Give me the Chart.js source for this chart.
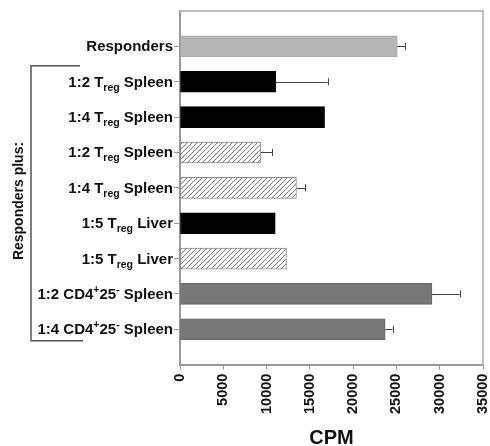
<!DOCTYPE html>
<html>
<head>
<meta charset="utf-8">
<script src="https://cdn.jsdelivr.net/npm/chart.js@4.4.0/dist/chart.umd.min.js"></script>
<style>
html,body{margin:0;padding:0;background:#fff;}
canvas{display:block;}
</style>
</head>
<body>
<canvas id="c" width="490" height="446"></canvas>
<script>
// ---- data ----
const categories = [
  'Responders',
  '1:2 T_{reg} Spleen',
  '1:4 T_{reg} Spleen',
  '1:2 T_{reg} Spleen',
  '1:4 T_{reg} Spleen',
  '1:5 T_{reg} Liver',
  '1:5 T_{reg} Liver',
  '1:2 CD4^{+}25^{-} Spleen',
  '1:4 CD4^{+}25^{-} Spleen'
];
const cpmValues = [25100, 11050, 16700, 9350, 13450, 11000, 12300, 29100, 23700];
const cpmErrors = [900, 6000, 0, 1300, 1000, 0, 0, 3200, 850];
const xTicks = [0, 5000, 10000, 15000, 20000, 25000, 30000, 35000];
const groupLabel = 'Responders plus:';
const axisTitle = 'CPM';
// fill kind per bar (style lookup)
const fillKinds = ['light', 'black', 'black', 'hatch', 'hatch', 'black', 'hatch', 'dark', 'dark'];

const FONT = '"Liberation Sans", Arial, Helvetica, sans-serif';

function makeHatch() {
  const s = 5;
  const c = document.createElement('canvas');
  c.width = s; c.height = s;
  const g = c.getContext('2d');
  g.fillStyle = '#fff';
  g.fillRect(0, 0, s, s);
  g.strokeStyle = '#777';
  g.lineWidth = 1;
  g.beginPath();
  g.moveTo(0, s); g.lineTo(s, 0);
  g.moveTo(-1, 1); g.lineTo(1, -1);
  g.moveTo(s - 1, s + 1); g.lineTo(s + 1, s - 1);
  g.stroke();
  return document.getElementById('c').getContext('2d').createPattern(c, 'repeat');
}
const hatch = makeHatch();
const fillMap = { light: '#b5b5b5', black: '#000000', hatch: hatch, dark: '#777777' };
const borderMap = { light: '#aaaaaa', black: '#000000', hatch: '#8a8a8a', dark: '#6a6a6a' };

// padded category list: empty slot before and after
const yLabels = [''].concat(categories, ['']);
const barData = [null].concat(cpmValues, [null]);
const errData = [null].concat(cpmErrors, [null]);
const kinds = [null].concat(fillKinds, [null]);

function parseRich(str) {
  const parts = [];
  const re = /([_^])\{([^}]*)\}/g;
  let last = 0, m;
  while ((m = re.exec(str)) !== null) {
    if (m.index > last) parts.push({ t: str.slice(last, m.index), k: 'n' });
    parts.push({ t: m[2], k: m[1] === '_' ? 'sub' : 'sup' });
    last = re.lastIndex;
  }
  if (last < str.length) parts.push({ t: str.slice(last), k: 'n' });
  return parts;
}

const decorPlugin = {
  id: 'decor',
  beforeDatasetsDraw(chart) {
    const { ctx, chartArea: a } = chart;
    ctx.save();
    ctx.strokeStyle = '#bdbdbd';
    ctx.lineWidth = 2;
    ctx.beginPath();
    ctx.moveTo(a.left, a.top);
    ctx.lineTo(a.right, a.top);
    ctx.lineTo(a.right, a.bottom);
    ctx.stroke();
    ctx.restore();
  },
  afterDatasetsDraw(chart) {
    const { ctx } = chart;
    const xs = chart.scales.x, ys = chart.scales.y;
    ctx.save();
    // error bars (positive side only)
    ctx.strokeStyle = '#444';
    ctx.lineWidth = 1;
    errData.forEach((e, i) => {
      if (!e) return;
      const y = ys.getPixelForValue(i);
      const x0 = xs.getPixelForValue(barData[i]);
      const x1 = xs.getPixelForValue(barData[i] + e);
      ctx.beginPath();
      ctx.moveTo(x0, Math.round(y) + 0.5);
      ctx.lineTo(x1, Math.round(y) + 0.5);
      ctx.moveTo(Math.round(x1) + 0.5, y - 3.5);
      ctx.lineTo(Math.round(x1) + 0.5, y + 3.5);
      ctx.stroke();
    });
    // category labels with sub/superscripts
    const rightX = xs.left - 7;
    ctx.fillStyle = '#111';
    ctx.textBaseline = 'alphabetic';
    ctx.textAlign = 'left';
    const mainF = 'bold 15px ' + FONT;
    const smallF = 'bold 10.5px ' + FONT;
    categories.forEach((lab, ci) => {
      const i = ci + 1;
      const y = ys.getPixelForValue(i);
      const parts = parseRich(lab);
      let w = 0;
      parts.forEach(p => { ctx.font = p.k === 'n' ? mainF : smallF; p.w = ctx.measureText(p.t).width; w += p.w; });
      let x = rightX - w;
      const base = y + 5;
      parts.forEach(p => {
        ctx.font = p.k === 'n' ? mainF : smallF;
        const dy = p.k === 'sub' ? 4 : (p.k === 'sup' ? -6 : 0);
        ctx.fillText(p.t, x, base + dy);
        x += p.w;
      });
    });
    // bracket around the "Responders plus" group
    ctx.strokeStyle = '#555';
    ctx.lineWidth = 1.5;
    const yTop = ys.getPixelForValue(2) - 16;
    const yBot = ys.getPixelForValue(categories.length) + 11.5;
    ctx.beginPath();
    ctx.moveTo(80, yTop);
    ctx.lineTo(31, yTop);
    ctx.lineTo(31, yBot);
    ctx.lineTo(83, yBot);
    ctx.stroke();
    // rotated group label
    ctx.save();
    ctx.translate(19, 201);
    ctx.rotate(-Math.PI / 2);
    ctx.font = 'bold 14px ' + FONT;
    ctx.textAlign = 'center';
    ctx.textBaseline = 'middle';
    ctx.fillStyle = '#111';
    ctx.fillText(groupLabel, 0, 0);
    ctx.restore();
    ctx.restore();
  }
};

new Chart(document.getElementById('c'), {
  type: 'bar',
  data: {
    labels: yLabels,
    datasets: [{
      data: barData,
      backgroundColor: kinds.map(k => k ? fillMap[k] : 'transparent'),
      borderColor: kinds.map(k => k ? borderMap[k] : 'transparent'),
      borderWidth: 1,
      borderSkipped: false,
      barThickness: 21
    }]
  },
  options: {
    indexAxis: 'y',
    responsive: false,
    devicePixelRatio: 1,
    animation: false,
    layout: { padding: { left: 174, top: 11, right: 0, bottom: -2 } },
    plugins: { legend: { display: false }, tooltip: { enabled: false } },
    scales: {
      x: {
        type: 'linear',
        min: 0,
        max: 35000,
        afterBuildTicks: s => { s.ticks = xTicks.map(v => ({ value: v })); },
        afterFit: s => { s.paddingRight = 7; s.paddingLeft = 0; },
        ticks: {
          color: '#111',
          font: { family: FONT, size: 14.5, weight: 'bold' },
          minRotation: 90,
          maxRotation: 90,
          padding: 4,
          callback: v => String(v)
        },
        grid: { drawOnChartArea: false, drawTicks: true, tickLength: 5, color: '#999', lineWidth: 1 },
        border: { display: true, color: '#999', width: 2 },
        title: {
          display: true,
          text: axisTitle,
          color: '#111',
          font: { family: FONT, size: 20, weight: 'bold', lineHeight: 1 },
          padding: { top: 10, bottom: 0 }
        }
      },
      y: {
        type: 'category',
        offset: false,
        afterBuildTicks: s => { s.ticks = s.ticks.filter(t => t.value > 0 && t.value < yLabels.length - 1); },
        ticks: { display: false },
        grid: { offset: false, drawOnChartArea: false, drawTicks: true, tickLength: 6, color: '#999', lineWidth: 1 },
        border: { display: true, color: '#999', width: 2 }
      }
    }
  },
  plugins: [decorPlugin]
});
</script>
</body>
</html>
